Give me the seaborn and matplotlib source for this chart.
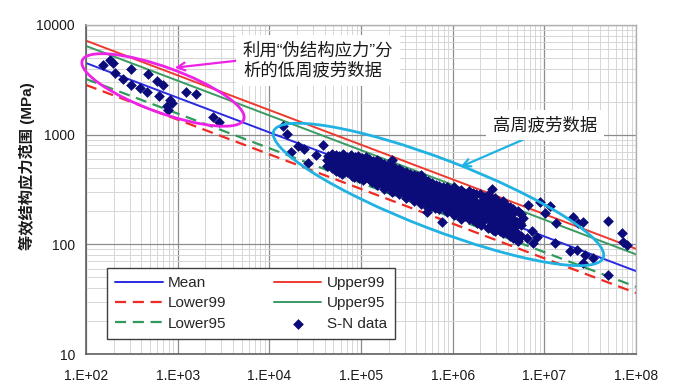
import numpy as np
import matplotlib
matplotlib.use("Agg")
import matplotlib.pyplot as plt
import seaborn as sns
from matplotlib.patches import Ellipse
from matplotlib.transforms import IdentityTransform
from matplotlib.ticker import LogLocator, NullFormatter

# ---------------- data ----------------
x_ticks = [1e2, 1e3, 1e4, 1e5, 1e6, 1e7, 1e8]
x_tick_labels = ["1.E+02", "1.E+03", "1.E+04", "1.E+05", "1.E+06", "1.E+07", "1.E+08"]
y_ticks = [10, 100, 1000, 10000]
y_tick_labels = ["10", "100", "1000", "10000"]

# design curves (end points, straight on log-log)
curve_cycles = [1e2, 1e8]
mean_stress = [4500, 57]
upper99_stress = [7200, 91]
upper95_stress = [6440, 81]
lower95_stress = [3220, 41]
lower99_stress = [2840, 36]

# low-cycle data (pseudo structural stress)
lcf_cycles = [155, 183, 195, 207, 255, 310, 310, 388, 467, 478, 600, 687, 625,
              824, 771, 790, 867, 1233, 1585, 2410, 2825]
lcf_stress = [4315, 4797, 4477, 3631, 3200, 3945, 2838, 2649, 2466, 3575, 3105,
              2838, 2254, 2072, 1828, 1680, 1945, 2466, 2350, 1442, 1315]

# high-cycle data
hcf_cycles = [
    1.42e4, 1.54e4, 1.72e4, 2.07e4, 2.41e4, 2.66e4, 3.2e4, 3.88e4, 4.22e4,
    4.4e4, 4.5e4, 4.3e4,
    4.8e4, 4.9e4, 4.7e4, 4.8e4,
    5.3e4, 5.2e4, 5.4e4, 5.3e4,
    5.8e4, 5.9e4, 5.7e4, 5.8e4,
    6.4e4, 6.3e4, 6.5e4, 6.4e4, 6.2e4,
    7.0e4, 7.1e4, 6.9e4, 7.0e4,
    7.7e4, 7.6e4, 7.8e4, 7.7e4, 7.9e4,
    8.5e4, 8.4e4, 8.6e4, 8.5e4, 8.3e4,
    9.3e4, 9.4e4, 9.2e4, 9.3e4, 9.5e4,
    1.02e5, 1.03e5, 1.01e5, 1.02e5, 1.04e5,
    1.12e5, 1.11e5, 1.13e5, 1.12e5, 1.10e5,
    1.23e5, 1.24e5, 1.22e5, 1.23e5, 1.25e5,
    1.35e5, 1.34e5, 1.36e5, 1.35e5, 1.33e5,
    1.48e5, 1.47e5, 1.49e5, 1.48e5, 1.46e5, 1.50e5,
    1.62e5, 1.63e5, 1.61e5, 1.62e5, 1.64e5,
    1.78e5, 1.77e5, 1.79e5, 1.78e5, 1.76e5, 1.80e5,
    1.95e5, 1.96e5, 1.94e5, 1.95e5, 1.97e5,
    2.14e5, 2.13e5, 2.15e5, 2.14e5, 2.12e5, 2.16e5,
    2.35e5, 2.36e5, 2.34e5, 2.35e5, 2.37e5,
    2.58e5, 2.57e5, 2.59e5, 2.58e5, 2.56e5, 2.60e5,
    2.83e5, 2.84e5, 2.82e5, 2.83e5, 2.85e5,
    3.1e5, 3.09e5, 3.11e5, 3.1e5, 3.08e5, 3.12e5,
    3.4e5, 3.41e5, 3.39e5, 3.4e5, 3.42e5,
    3.75e5, 3.74e5, 3.76e5, 3.75e5, 3.73e5, 3.77e5,
    4.1e5, 4.11e5, 4.09e5, 4.1e5, 4.12e5,
    4.5e5, 4.49e5, 4.51e5, 4.5e5, 4.48e5, 4.52e5,
    4.95e5, 4.96e5, 4.94e5, 4.95e5, 4.97e5,
    5.4e5, 5.39e5, 5.41e5, 5.4e5, 5.38e5, 5.42e5,
    5.95e5, 5.96e5, 5.94e5, 5.95e5, 5.97e5,
    6.5e5, 6.49e5, 6.51e5, 6.5e5, 6.48e5,
    7.15e5, 7.16e5, 7.14e5, 7.15e5, 7.17e5,
    7.85e5, 7.84e5, 7.86e5, 7.85e5,
    8.6e5, 8.61e5, 8.59e5, 8.6e5, 8.62e5,
    9.4e5, 9.39e5, 9.41e5, 9.4e5,
    1.03e6, 1.04e6, 1.02e6, 1.03e6, 1.05e6, 1.03e6,
    1.13e6, 1.12e6, 1.14e6, 1.13e6,
    1.24e6, 1.25e6, 1.23e6, 1.24e6, 1.26e6, 1.24e6,
    1.36e6, 1.35e6, 1.37e6, 1.36e6,
    1.5e6, 1.49e6, 1.51e6, 1.5e6, 1.52e6,
    1.65e6, 1.64e6, 1.66e6, 1.65e6, 1.67e6,
    1.8e6, 1.79e6, 1.81e6, 1.8e6, 1.82e6,
    2.0e6, 1.99e6, 2.01e6, 2.0e6, 2.02e6,
    2.2e6, 2.19e6, 2.21e6, 2.2e6,
    2.4e6, 2.39e6, 2.41e6, 2.4e6, 2.42e6,
    2.65e6, 2.64e6, 2.66e6, 2.65e6,
    2.9e6, 2.89e6, 2.91e6, 2.9e6, 2.92e6,
    3.2e6, 3.19e6, 3.21e6, 3.2e6,
    3.5e6, 3.49e6, 3.51e6, 3.5e6, 3.52e6,
    3.85e6, 3.84e6, 3.86e6, 3.85e6,
    4.2e6, 4.19e6, 4.21e6, 4.2e6,
    4.6e6, 4.59e6, 4.61e6, 4.6e6,
    5.1e6, 5.09e6, 5.11e6, 5.1e6,
    5.6e6, 5.59e6, 5.61e6,
    2.16e5, 5.21e5, 7.59e5, 2.67e6, 2.89e6, 3.88e6,
    6.7e6, 9.0e6, 1.15e7, 1.02e7, 1.34e7, 2.07e7, 2.66e7, 2.35e7, 4.99e7,
    6.98e7, 7.27e7, 7.91e7, 1.31e7, 1.91e7, 2.25e7, 2.77e7, 3.42e7, 2.66e7, 4.99e7,
    2.77e6, 3.28e6, 4.22e6, 4.99e6, 6.43e6, 7.59e6, 7.28e6, 8.26e6, 5.42e6, 5.89e6,
    4.58e6, 3.28e6, 4.22e6, 2.89e6, 2.25e6, 3.88e6, 2.89e6,
]
hcf_stress = [
    1200, 1015, 700, 789, 736, 556, 653, 805, 588,
    640, 580, 520,
    660, 600, 545, 495,
    650, 590, 530, 470,
    640, 575, 515, 455,
    660, 600, 540, 480, 440,
    630, 570, 510, 455,
    650, 590, 530, 470, 420,
    620, 560, 505, 450, 410,
    640, 580, 520, 465, 405,
    610, 550, 495, 440, 390,
    620, 565, 510, 455, 400,
    600, 545, 490, 435, 385,
    580, 525, 470, 420, 370,
    590, 535, 480, 430, 380, 345,
    560, 505, 455, 405, 360,
    545, 495, 445, 395, 350, 320,
    530, 480, 430, 385, 340,
    515, 465, 420, 375, 330, 300,
    500, 450, 405, 360, 320,
    490, 440, 395, 350, 310, 285,
    470, 425, 380, 340, 300,
    455, 410, 370, 330, 295, 265,
    440, 395, 355, 315, 280,
    430, 385, 345, 305, 270, 250,
    420, 375, 335, 295, 260,
    425, 380, 340, 300, 265, 235,
    390, 350, 310, 275, 245,
    375, 335, 300, 265, 235, 215,
    365, 320, 285, 255, 225,
    350, 310, 275, 245, 215,
    340, 300, 265, 235, 210,
    330, 290, 255, 225,
    335, 285, 250, 220, 198,
    310, 270, 240, 210,
    330, 295, 260, 230, 205, 185,
    300, 255, 225, 195,
    310, 275, 245, 215, 190, 172,
    285, 240, 205, 180,
    305, 265, 230, 200, 172,
    295, 255, 220, 190, 165,
    285, 245, 212, 185, 158,
    290, 240, 205, 178, 150,
    270, 228, 195, 165,
    280, 240, 200, 170, 142,
    255, 212, 180, 150,
    265, 225, 190, 160, 135,
    240, 205, 170, 140,
    250, 215, 180, 150, 128,
    230, 195, 160, 130,
    220, 185, 150, 120,
    210, 170, 140, 115,
    200, 160, 125, 108,
    190, 150, 118,
    588, 199, 161, 318, 131, 135,
    229, 245, 224, 192, 158, 179, 161, 156, 164,
    126, 106, 99, 102, 87, 89, 80, 75, 67, 53,
    135, 131, 126, 110, 114, 102, 131, 117, 156, 173,
    192, 199, 213, 245, 263, 161, 167,
]

sn_cycles = lcf_cycles + hcf_cycles
sn_stress = lcf_stress + hcf_stress

# ---------------- style ----------------
sns.set_style("white")
plt.rcParams['font.family'] = ['Liberation Sans', 'Noto Sans CJK SC', 'DejaVu Sans']
cjk = ['Liberation Sans', 'Noto Sans CJK SC', 'DejaVu Sans']

fig = plt.figure(figsize=(6.74, 3.86), dpi=100)
ax = fig.add_axes([86 / 674, 32 / 386, 550 / 674, 329 / 386])
ax.set_xscale('log')
ax.set_yscale('log')
ax.set_xlim(1e2, 1e8)
ax.set_ylim(10, 1e4)

ax.xaxis.set_minor_locator(LogLocator(base=10, subs=np.arange(2, 10), numticks=100))
ax.yaxis.set_minor_locator(LogLocator(base=10, subs=np.arange(2, 10), numticks=100))
ax.xaxis.set_minor_formatter(NullFormatter())
ax.yaxis.set_minor_formatter(NullFormatter())
ax.set_xticks(x_ticks)
ax.set_xticklabels(x_tick_labels)
ax.set_yticks(y_ticks)
ax.set_yticklabels(y_tick_labels)

ax.grid(which='minor', color='#d6d6d6', lw=0.7)
ax.grid(which='major', color='#8c8c8c', lw=0.9)
ax.set_axisbelow(True)
ax.tick_params(which='minor', length=0)
ax.tick_params(which='major', direction='out', length=3, width=1, color='#555555',
               labelsize=10, labelcolor='#1a1a1a')
ax.tick_params(axis='x', pad=7.5)
ax.tick_params(axis='y', pad=5)
for side in ['left', 'bottom']:
    ax.spines[side].set_color('#606060')
    ax.spines[side].set_linewidth(1.2)
for side in ['top', 'right']:
    ax.spines[side].set_color('#b0b0b0')
    ax.spines[side].set_linewidth(1.0)

# ---------------- curves ----------------
sns.lineplot(x=curve_cycles, y=mean_stress, ax=ax, color='#2a2ae0', lw=1.4)
h_mean = ax.lines[-1]
sns.lineplot(x=curve_cycles, y=lower99_stress, ax=ax, color='#ee2a22', lw=1.6)
h_l99 = ax.lines[-1]
h_l99.set_dashes([5, 3])
sns.lineplot(x=curve_cycles, y=lower95_stress, ax=ax, color='#2f9a5c', lw=1.6)
h_l95 = ax.lines[-1]
h_l95.set_dashes([5, 3])
sns.lineplot(x=curve_cycles, y=upper99_stress, ax=ax, color='#ee3a2e', lw=1.4)
h_u99 = ax.lines[-1]
sns.lineplot(x=curve_cycles, y=upper95_stress, ax=ax, color='#3a9a62', lw=1.4)
h_u95 = ax.lines[-1]

sns.scatterplot(x=sn_cycles, y=sn_stress, ax=ax, marker='D', s=30, color='#0b0b7a',
                edgecolor='#0b0b7a', linewidth=0, zorder=4, legend=False)
h_sn = ax.collections[-1]

# ---------------- ellipses / annotations ----------------
def add_ellipse(center_data, a_px, b_px, angle_deg, color):
    cx, cy = ax.transData.transform(center_data)
    e = Ellipse((cx, cy), width=2 * a_px, height=2 * b_px, angle=angle_deg,
                transform=IdentityTransform(), fill=False, ec=color, lw=2.0, zorder=5,
                clip_on=False)
    ax.add_patch(e)

add_ellipse((692, 2556), 86, 22.6, -20, '#ee22e6')
add_ellipse((7.0e5, 285), 176.5, 35, -21, '#1fb2e2')

ax.annotate('', xy=(867, 4055), xytext=(5000, 4780),
            arrowprops=dict(arrowstyle='->', color='#ee22e6', lw=1.6, mutation_scale=14),
            zorder=5)
ax.annotate('', xy=(1.14e6, 497), xytext=(6.47e6, 933),
            arrowprops=dict(arrowstyle='->', color='#1fb2e2', lw=1.6, mutation_scale=14),
            zorder=5)

ax.text(5160, 4750, "利用“伪结构应力”分\n析的低周疲劳数据", ha='left', va='center',
        fontsize=12.5, family=cjk, color='#1a1a1a', linespacing=1.25, zorder=7,
        bbox=dict(fc='white', ec='none', pad=5))
ax.text(1.02e7, 1224, "高周疲劳数据", ha='center', va='center',
        fontsize=12.5, family=cjk, color='#1a1a1a', zorder=7,
        bbox=dict(fc='white', ec='none', pad=5))

ax.set_ylabel("等效结构应力范围 (MPa)", fontsize=11, fontweight='bold', family=cjk,
              color='#1a1a1a')
ax.yaxis.set_label_coords((35 - 86) / 550, 0.571)
ax.set_xlabel("")

leg = ax.legend([h_mean, h_l99, h_l95, h_u99, h_u95, h_sn],
                ["Mean", "Lower99", "Lower95", "Upper99", "Upper95", "S-N data"],
                ncol=2, loc='lower left', bbox_to_anchor=(0.0382, 0.0456),
                borderaxespad=0, frameon=True, fancybox=False, edgecolor='#404040',
                fontsize=11, handlelength=3.1, handletextpad=0.35, columnspacing=3.1,
                labelspacing=0.40, borderpad=0.55, scatterpoints=1, framealpha=1)
leg.get_frame().set_linewidth(1.0)
leg.set_zorder(8)

fig.savefig("out.png", dpi=100)
